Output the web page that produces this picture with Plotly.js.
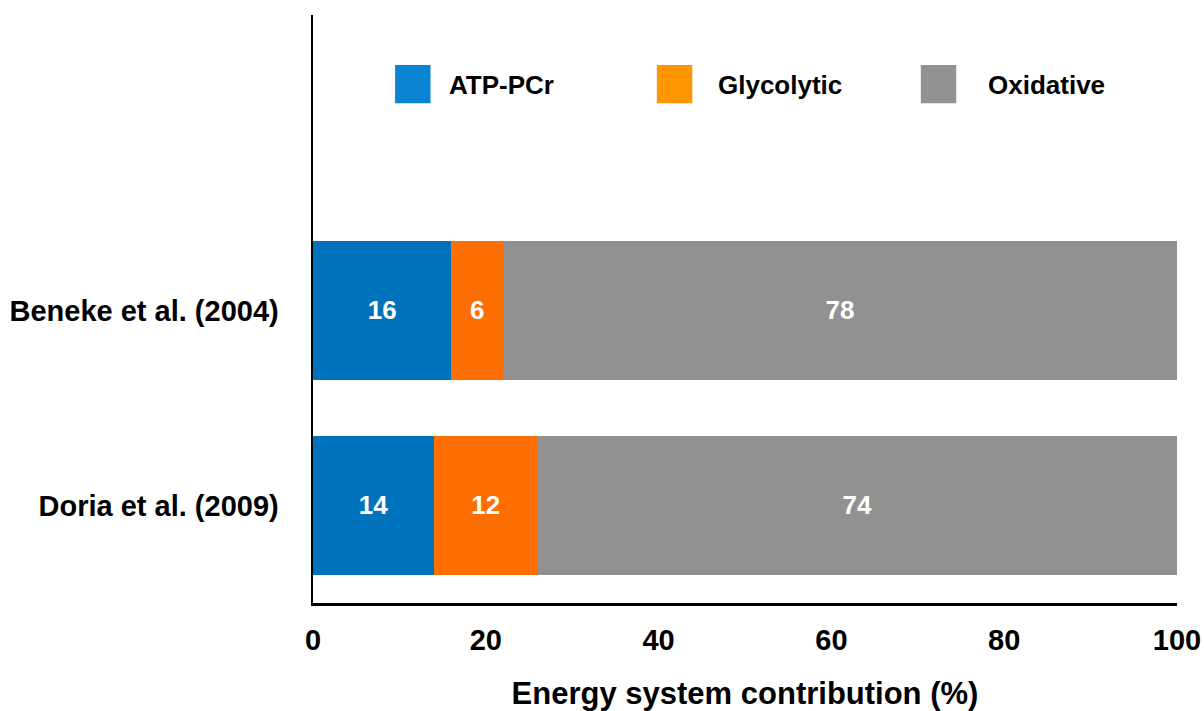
<!DOCTYPE html>
<html>
<head>
<meta charset="utf-8">
<script src="https://cdn.plot.ly/plotly-3.0.1.min.js"></script>
<style>
html,body{margin:0;padding:0;background:#fff;}
#chart{width:1204px;height:711px;}
</style>
</head>
<body>
<div id="chart"></div>
<script>
// Data
const studies = ["Doria et al. (2009)", "Beneke et al. (2004)"];
const seriesNames = ["ATP-PCr", "Glycolytic", "Oxidative"];
const atpPcr = [14, 16];
const glycolytic = [12, 6];
const oxidative = [74, 78];
const xTicks = [0, 20, 40, 60, 80, 100];

const barColors = ["#0072BB", "#FF6E00", "#919191"];
const legendColors = ["#0A84D2", "#FF9500", "#929292"];
const font = "Liberation Sans, Arial, Helvetica, sans-serif";

const values = [atpPcr, glycolytic, oxidative];
const traces = values.map((v, i) => ({
  type: "bar",
  orientation: "h",
  name: seriesNames[i],
  y: studies,
  x: v,
  width: 0.713,
  marker: {color: barColors[i], line: {width: 0}},
  text: v.map(String),
  textposition: "inside",
  insidetextanchor: "middle",
  textfont: {family: font, size: 26, color: "#ffffff", weight: "bold"},
  hoverinfo: "skip",
  showlegend: false
}));

// custom legend (tall swatches like the reference)
const legX = [0.095, 0.398, 0.7035];
const legTextX = [0.155, 0.467, 0.779];
const shapes = [];
const annotations = [];
seriesNames.forEach((n, i) => {
  shapes.push({
    type: "rect", xref: "paper", yref: "paper",
    x0: legX[i], x1: legX[i] + 0.041, y0: 0.850, y1: 0.915,
    fillcolor: legendColors[i], line: {width: 0}
  });
  annotations.push({
    xref: "paper", yref: "paper", x: legTextX[i], y: 0.881,
    xanchor: "left", yanchor: "middle", showarrow: false,
    text: "<b>" + n + "</b>",
    font: {family: font, size: 26, color: "#000"}
  });
});

const layout = {
  width: 1204, height: 711,
  margin: {l: 313, r: 27, t: 15, b: 108},
  paper_bgcolor: "#fff", plot_bgcolor: "#fff",
  barmode: "stack",
  bargap: 0.287,
  xaxis: {
    range: [0, 100],
    tickvals: xTicks,
    ticktext: xTicks.map(t => "<b>" + t + "</b>"),
    showgrid: false, zeroline: false,
    showline: true, linecolor: "#000", linewidth: 2.5,
    ticks: "", ticklabelstandoff: 10,
    tickfont: {family: font, size: 29, color: "#000"},
    title: {text: "<b>Energy system contribution (%)</b>", standoff: 27,
            font: {family: font, size: 31, color: "#000"}},
    fixedrange: true
  },
  yaxis: {
    type: "category",
    range: [-0.5, 2.515],
    showgrid: false, zeroline: false,
    showline: true, linecolor: "#000", linewidth: 2.5,
    ticks: "", ticklabelstandoff: 26,
    tickvals: studies,
    ticktext: studies.map(s => "<b>" + s + "</b>"),
    tickfont: {family: font, size: 29, color: "#000"},
    fixedrange: true
  },
  shapes: shapes,
  annotations: annotations,
  showlegend: false
};

Plotly.newPlot("chart", traces, layout, {displayModeBar: false, staticPlot: true});
</script>
</body>
</html>
